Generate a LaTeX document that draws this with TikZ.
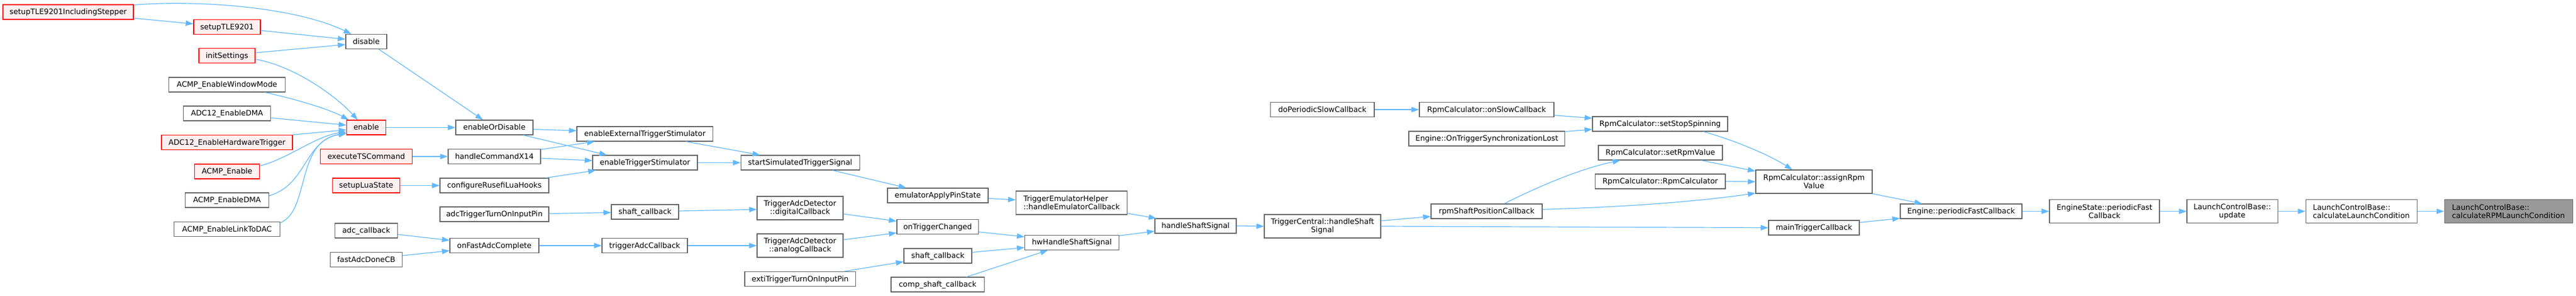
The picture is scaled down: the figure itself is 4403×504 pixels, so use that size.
\documentclass[tikz,border=0pt]{standalone}
\usepackage{fontspec}
\usetikzlibrary{arrows.meta,calc}
\newfontfamily\ndfam{DejaVu Sans}
\newcommand\ndfont{\ndfam\fontsize{12.8}{14}\selectfont}
\definecolor{edgeblue}{HTML}{63B8FF}
\definecolor{nodegray}{HTML}{666666}
\definecolor{redfill}{HTML}{FFF0F0}
\definecolor{rootfill}{HTML}{999999}
\tikzset{
  box/.style={draw=nodegray, fill=white, line width=1.1pt, inner sep=0pt, font=\ndfont},
  one/.style={box, text height=10pt, text depth=2pt, minimum height=25pt},
  two/.style={box, minimum height=40pt, align=center},
  twol/.style={box, minimum height=40pt, align=left},
  trunc/.style={draw=red, fill=redfill},
  root/.style={draw=nodegray, fill=rootfill},
  arr/.style={draw=edgeblue, line width=1.2pt, -{Triangle[length=13pt,width=9pt]}}
}
\begin{document}
\begin{tikzpicture}[x=1pt,y=-1pt]
\useasboundingbox (0,0) rectangle (4403,504);
% rank 0
\node[one,trunc,minimum width=223pt] (s0) at (116.5,20.5) {setupTLE9201IncludingStepper};
% rank 1
\node[one,trunc,minimum width=114pt] (a1) at (388,46) {setupTLE9201};
\node[one,trunc,minimum width=96pt] (a2) at (388,95) {initSettings};
\node[one,minimum width=199pt] (a3) at (388,144.5) {ACMP\_EnableWindowMode};
\node[one,minimum width=149pt] (a4) at (388,193.5) {ADC12\_EnableDMA};
\node[one,trunc,minimum width=224pt] (a5) at (388,243) {ADC12\_EnableHardwareTrigger};
\node[one,trunc,minimum width=111pt] (a6) at (388,292.5) {ACMP\_Enable};
\node[one,minimum width=143pt] (a7) at (388,341.5) {ACMP\_EnableDMA};
\node[one,minimum width=181pt] (a8) at (388,391) {ACMP\_EnableLinkToDAC};
% rank 2
\node[one,minimum width=70pt] (b1) at (626,71) {disable};
\node[one,trunc,minimum width=67pt] (b2) at (626,217.5) {enable};
\node[one,trunc,minimum width=156.5pt] (b3) at (626,267) {executeTSCommand};
\node[one,trunc,minimum width=115pt] (b4) at (626,316.5) {setupLuaState};
\node[one,minimum width=107pt] (b5) at (626,393.5) {adc\_callback};
\node[one,minimum width=123pt] (b6) at (626,443) {fastAdcDoneCB};
% rank 3
\node[one,minimum width=132pt] (c1) at (845,217.5) {enableOrDisable};
\node[one,minimum width=158pt] (c2) at (845,267) {handleCommandX14};
\node[one,minimum width=186pt] (c3) at (845,316.5) {configureRusefiLuaHooks};
\node[one,minimum width=186pt] (c4) at (845,365.5) {adcTriggerTurnOnInputPin};
\node[one,minimum width=152pt] (c5) at (845,419) {onFastAdcComplete};
% rank 4
\node[one,minimum width=232.6pt] (d1) at (1102.3,228.5) {enableExternalTriggerStimulator};
\node[one,minimum width=179pt] (d2) at (1102.5,277.5) {enableTriggerStimulator};
\node[one,minimum width=115pt] (d3) at (1102.5,361.5) {shaft\_callback};
\node[one,minimum width=146pt] (d4) at (1102,419) {triggerAdcCallback};
% rank 5
\node[one,minimum width=203pt] (e1) at (1367.7,277.5) {startSimulatedTriggerSignal};
\node[two,minimum width=147pt] (e2) at (1367.5,355) {TriggerAdcDetector\\::digitalCallback};
\node[two,minimum width=147pt] (e3) at (1367.5,419) {TriggerAdcDetector\\::analogCallback};
\node[one,minimum width=189.5pt] (e4) at (1367.7,476) {extiTriggerTurnOnInputPin};
% rank 6
\node[one,minimum width=172pt] (f1) at (1603,333.5) {emulatorApplyPinState};
\node[one,minimum width=139.5pt] (f2) at (1602.7,387) {onTriggerChanged};
\node[one,minimum width=116pt] (f3) at (1603,436.5) {shaft\_callback};
\node[one,minimum width=159.5pt] (f4) at (1602.7,485.5) {comp\_shaft\_callback};
% rank 7
\node[twol,minimum width=190pt] (g1) at (1831.7,346) {TriggerEmulatorHelper\\::handleEmulatorCallback};
\node[one,minimum width=160.6pt] (g2) at (1832,413.8) {hwHandleShaftSignal};
% rank 8
\node[one,minimum width=139pt] (h1) at (2043.5,385.5) {handleShaftSignal};
% rank 9
\node[two,minimum width=199pt] (i1) at (2260.5,386) {TriggerCentral::handleShaft\\Signal};
\node[one,minimum width=177.6pt] (i2) at (2260.2,187) {doPeriodicSlowCallback};
% rank 10
\node[one,minimum width=230pt] (j1) at (2541,187) {RpmCalculator::onSlowCallback};
\node[one,minimum width=266.6pt] (j2) at (2541.3,236.5) {Engine::OnTriggerSynchronizationLost};
\node[one,minimum width=190pt] (j3) at (2541,360.5) {rpmShaftPositionCallback};
% rank 11
\node[one,minimum width=231pt] (k1) at (2837.5,211.5) {RpmCalculator::setStopSpinning};
\node[one,minimum width=212pt] (k2) at (2838,260.5) {RpmCalculator::setRpmValue};
\node[one,minimum width=222.6pt] (k3) at (2837.7,309.5) {RpmCalculator::RpmCalculator};
% rank 12
\node[two,minimum width=199pt] (l1) at (3100.5,310) {RpmCalculator::assignRpm\\Value};
\node[one,minimum width=155pt] (l2) at (3100.5,388.5) {mainTriggerCallback};
% ranks 13-17
\node[one,minimum width=208pt] (m1) at (3352,360.5) {Engine::periodicFastCallback};
\node[two,minimum width=188pt] (m2) at (3597,360.5) {EngineState::periodicFast\\Callback};
\node[two,minimum width=155pt] (m3) at (3815.5,360.5) {LaunchControlBase::\\update};
\node[twol,minimum width=190pt] (m4) at (4036,360.5) {LaunchControlBase::\\calculateLaunchCondition};
\node[twol,root,minimum width=219pt] (m5) at (4287.5,360.5) {LaunchControlBase::\\calculateRPMLaunchCondition};
% edges
\draw[arr] ($(s0.north east)+(0,1)$) .. controls (330,0) and (500,10) .. ($(b1.north west)+(10,0)$);
\draw[arr] ($(s0.east)+(0,10.5)$) -- ($(a1.west)+(0,-5.3)$);
\draw[arr] ($(a1.east)+(0,6)$) -- ($(b1.west)+(0,-4)$);
\draw[arr] ($(a2.east)+(0,-5)$) -- ($(b1.west)+(0,5)$);
\draw[arr] ($(a2.east)+(0,6)$) .. controls (500,112) and (570,160) .. ($(b2.north west)+(19.5,0)$);
\draw[arr] ($(a3.south east)+(-35,0)$) .. controls (500,168) and (560,185) .. ($(b2.north west)+(4,0)$);
\draw[arr] ($(a4.east)+(0,7.5)$) -- ($(b2.west)+(0,-4)$);
\draw[arr] (a5.north east) -- ($(b2.west)+(0,4)$);
\draw[arr] ($(a6.east)+(0,-9.5)$) .. controls (490,272) and (540,232) .. ($(b2.west)+(0,7.5)$);
\draw[arr] ($(a7.east)+(0,-7.5)$) .. controls (525,315) and (520,240) .. ($(b2.west)+(0,9.5)$);
\draw[arr] ($(a8.north east)+(0,2)$) .. controls (530,360) and (505,240) .. ($(b2.west)+(0,10.5)$);
\draw[arr] ($(b1.south east)+(-14,0)$) -- ($(c1.north west)+(47,0)$);
\draw[arr] (b2.east) -- (c1.west);
\draw[arr] ($(c1.east)+(0,3)$) -- ($(d1.west)+(0,-5.5)$);
\draw[arr] ($(c1.south east)+(-17,0)$) -- ($(d2.north west)+(25,0)$);
\draw[arr] (b3.east) -- (c2.west);
\draw[arr] ($(c2.east)+(0,-12)$) -- ($(d1.south west)+(31,0)$);
\draw[arr] ($(c2.east)+(0,3)$) -- ($(d2.west)+(0,-3.5)$);
\draw[arr] (b4.east) -- (c3.west);
\draw[arr] ($(c3.north east)+(-5,0)$) -- ($(d2.south west)+(6,0)$);
\draw[arr] ($(c4.east)+(0,-1)$) -- ($(d3.west)+(0,1)$);
\draw[arr] ($(b5.east)+(0,6.5)$) -- ($(c5.west)+(0,-9)$);
\draw[arr] ($(b6.east)+(0,-7)$) -- ($(c5.west)+(0,8.7)$);
\draw[arr] (c5.east) -- (d4.west);
\draw[arr] ($(d1.south east)+(-46.6,0)$) -- ($(e1.north west)+(33.6,0)$);
\draw[arr] (d2.east) -- (e1.west);
\draw[arr] ($(d3.east)+(0,-1.5)$) -- ($(e2.west)+(0,2.3)$);
\draw[arr] (d4.east) -- (e3.west);
\draw[arr] ($(e1.south east)+(-47,0)$) -- ($(f1.north west)+(32.6,0)$);
\draw[arr] ($(e2.east)+(0,10)$) -- ($(f2.west)+(0,-9.7)$);
\draw[arr] ($(e3.east)+(0,-10)$) -- ($(f2.west)+(0,10.3)$);
\draw[arr] ($(e4.north east)+(-20,0)$) -- ($(f3.west)+(0,10)$);
\draw[arr] ($(f1.east)+(0,5)$) -- ($(g1.west)+(0,-5)$);
\draw[arr] ($(f2.east)+(0,8.7)$) -- ($(g2.west)+(0,-9.8)$);
\draw[arr] ($(f3.east)+(0,-6)$) -- ($(g2.west)+(0,8.5)$);
\draw[arr] ($(f4.north east)+(-31,0)$) -- ($(g2.south west)+(40,0)$);
\draw[arr] ($(g1.east)+(0,18)$) -- ($(h1.north west)+(3,0)$);
\draw[arr] ($(g2.north east)+(0,1.4)$) -- ($(h1.west)+(0,9)$);
\draw[arr] (h1.east) -- (i1.west);
\draw[arr] ($(i1.east)+(0,-9.3)$) -- ($(j3.west)+(0,8.8)$);
\draw[arr] (i1.east) -- (l2.west);
\draw[arr] (i2.east) -- (j1.west);
\draw[arr] ($(j1.east)+(0,9.7)$) -- ($(k1.west)+(0,-9.8)$);
\draw[arr] ($(j2.north east)+(0,1)$) -- ($(k1.west)+(0,9.2)$);
\draw[arr] ($(j3.north)+(30,0)$) .. controls (2630,318) and (2700,288) .. ($(k2.south west)+(38,0)$);
\draw[arr] ($(j3.east)+(0,-3.2)$) .. controls (2780,353) and (2900,344) .. ($(l1.south west)+(0,-1)$);
\draw[arr] ($(k1.south east)+(-42,0)$) .. controls (2960,238) and (3020,262) .. ($(l1.north west)+(63,0)$);
\draw[arr] ($(k2.south east)+(-37,0)$) -- ($(l1.west)+(0,-18)$);
\draw[arr] (k3.east) -- (l1.west);
\draw[arr] (l1.south east) -- ($(m1.north west)+(38,0)$);
\draw[arr] ($(l2.east)+(0,-9)$) -- ($(m1.west)+(0,12)$);
\draw[arr] (m1.east) -- (m2.west);
\draw[arr] (m2.east) -- (m3.west);
\draw[arr] (m3.east) -- (m4.west);
\draw[arr] (m4.east) -- (m5.west);
\end{tikzpicture}
\end{document}
